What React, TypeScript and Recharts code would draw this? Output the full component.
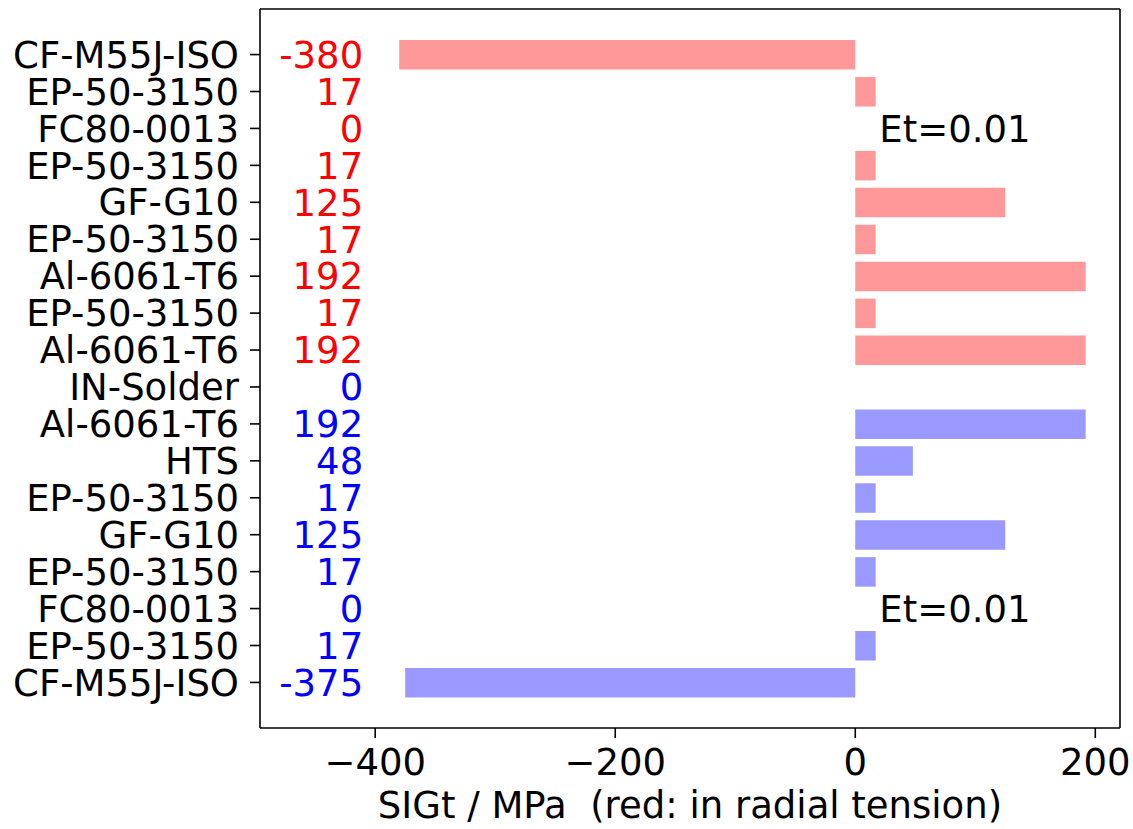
import React from "react";
import {
  ComposedChart,
  Bar,
  Cell,
  XAxis,
  YAxis,
  ReferenceDot,
  Label,
} from "recharts";

// Layer names, top to bottom
const layerNames: string[] = [
  "CF-M55J-ISO",
  "EP-50-3150",
  "FC80-0013",
  "EP-50-3150",
  "GF-G10",
  "EP-50-3150",
  "Al-6061-T6",
  "EP-50-3150",
  "Al-6061-T6",
  "IN-Solder",
  "Al-6061-T6",
  "HTS",
  "EP-50-3150",
  "GF-G10",
  "EP-50-3150",
  "FC80-0013",
  "EP-50-3150",
  "CF-M55J-ISO",
];

// SIGt / MPa values
const sigtValues: number[] = [
  -380, 17, 0, 17, 125, 17, 192, 17, 192, 0, 192, 48, 17, 125, 17, 0, 17, -375,
];

// true = red group (radial tension), false = blue group
const inTension: boolean[] = [
  true, true, true, true, true, true, true, true, true,
  false, false, false, false, false, false, false, false, false,
];

// Rows annotated with Et value
const etRows: number[] = [2, 15];
const etText = "Et=0.01";

const xTicks: number[] = [-400, -200, 0, 200];
const xDomain: [number, number] = [-496, 220.6];
const labelX = -410;
const etX = 20;

const FONT = "DejaVu Sans";
const FS = 37;

const data = layerNames.map((name, i) => ({
  idx: i,
  name,
  value: sigtValues[i],
  tension: inTension[i],
}));

const fmtX = (v: number) => String(v).replace("-", "\u2212");

export default function App() {
  return (
    <div style={{ position: "absolute", left: 0, top: 0, background: "#fff" }}>
      <ComposedChart
        width={1133}
        height={829}
        data={data}
        layout="vertical"
        margin={{ top: 8, right: 12, bottom: 0, left: 0 }}
        style={{ fontFamily: FONT }}
      >
        <XAxis
          type="number"
          dataKey="value"
          domain={xDomain}
          ticks={xTicks}
          allowDataOverflow
          tickFormatter={fmtX}
          height={101}
          tickSize={10}
          tickMargin={11}
          axisLine={{ stroke: "#000", strokeWidth: 1.6 }}
          tickLine={{ stroke: "#000", strokeWidth: 1.6 }}
          tick={{ fill: "#000", fontSize: FS, fontFamily: FONT }}
        >
          <Label
            value={"SIGt / MPa \u00a0(red: in radial tension)"}
            position="insideBottom"
            offset={11}
            style={{ fill: "#000", fontSize: FS, fontFamily: FONT }}
          />
        </XAxis>
        <XAxis
          xAxisId="top"
          orientation="top"
          type="number"
          domain={xDomain}
          allowDataOverflow
          height={1}
          tick={false}
          tickLine={false}
          axisLine={{ stroke: "#000", strokeWidth: 1.6 }}
        />
        <YAxis
          type="category"
          dataKey="idx"
          width={260}
          padding={{ top: 27.1, bottom: 27.1 }}
          tickFormatter={(v: number) => layerNames[v]}
          interval={0}
          tickSize={10}
          tickMargin={11}
          axisLine={{ stroke: "#000", strokeWidth: 1.6 }}
          tickLine={{ stroke: "#000", strokeWidth: 1.6 }}
          tick={{ fill: "#000", fontSize: FS, fontFamily: FONT }}
        />
        <YAxis
          yAxisId="right"
          orientation="right"
          type="category"
          dataKey="idx"
          width={1}
          tick={false}
          tickLine={false}
          axisLine={{ stroke: "#000", strokeWidth: 1.6 }}
        />
        <Bar dataKey="value" barSize={29.5} isAnimationActive={false}>
          {data.map((d) => (
            <Cell key={d.idx} fill={d.tension ? "#ff9999" : "#9999ff"} />
          ))}
        </Bar>
        {data.map((d) => (
          <ReferenceDot
            key={"lbl" + d.idx}
            x={labelX}
            y={d.idx}
            r={0}
            shape={(p: any) => (
              <text
                x={p.cx}
                y={p.cy}
                dy="0.36em"
                textAnchor="end"
                fill={d.tension ? "#ff0000" : "#0000ff"}
                fontSize={FS}
                fontFamily={FONT}
              >
                {String(d.value)}
              </text>
            )}
          />
        ))}
        {etRows.map((r) => (
          <ReferenceDot
            key={"et" + r}
            x={etX}
            y={r}
            r={0}
            shape={(p: any) => (
              <text
                x={p.cx}
                y={p.cy}
                dy="0.36em"
                textAnchor="start"
                fill="#000"
                fontSize={FS}
                fontFamily={FONT}
              >
                {etText}
              </text>
            )}
          />
        ))}
      </ComposedChart>
    </div>
  );
}
